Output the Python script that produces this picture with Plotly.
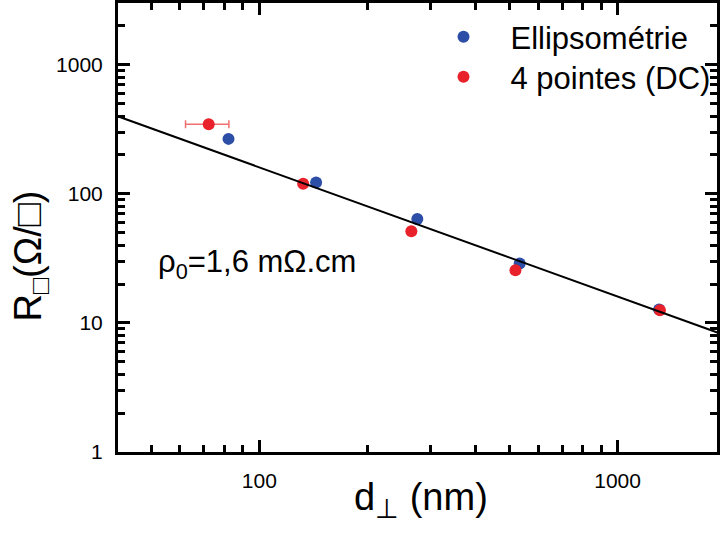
import math
import plotly.graph_objects as go

# ---- data ----
ellipso_d = [82, 144, 276, 533, 1306]
ellipso_R = [266, 122, 63.8, 28.8, 12.7]

pointes_d = [72.2, 132.5, 265.6, 518.6, 1313]
pointes_R = [345, 119.5, 51.2, 25.6, 12.5]
pointes_err = [10, 0, 0, 0, 0]

fit_d = [40, 2000]
fit_R = [400, 8]  # R = rho0 / d with rho0 = 1.6 mOhm.cm

x_tickvals = [100, 1000]
x_ticktext = ["100", "1000"]
y_tickvals = [1, 10, 100, 1000]
y_ticktext = ["1", "10", "100", "1000"]
x_minor = [m * 10 ** e for e in range(1, 4) for m in range(2, 10)]
y_minor = [m * 10 ** e for e in range(0, 4) for m in range(2, 10)]

FONT = "Liberation Sans, Arial, sans-serif"
BLUE = "#2c4ea6"
RED = "#e8212a"

W, H = 720, 534
L, R_, T, B = 118, 0, 3, 82
pw, ph = W - L - R_, H - T - B

def px(x):
    return (x - L) / pw

def py(y):
    return (H - B - y) / ph

fig = go.Figure()
fig.add_trace(go.Scatter(
    x=ellipso_d, y=ellipso_R, mode="markers", name="Ellipsométrie",
    marker=dict(color=BLUE, size=12, line=dict(width=0)), legend="legend",
))
fig.add_trace(go.Scatter(
    x=pointes_d, y=pointes_R, mode="markers", name="4 pointes (DC)",
    marker=dict(color=RED, size=12, line=dict(width=0)), legend="legend2",
    error_x=dict(type="data", array=pointes_err, color="#ef7070",
                 thickness=1.5, width=4),
))
fig.add_trace(go.Scatter(
    x=fit_d, y=fit_R, mode="lines", showlegend=False,
    line=dict(color="black", width=2),
))

xmin = math.log10(40.3)
xmax = xmin + pw / 360.0

axis_common = dict(
    type="log", showgrid=False, zeroline=False,
    showline=True, linecolor="black", linewidth=3,
    ticks="inside", ticklen=12, tickwidth=3, tickcolor="black",
    mirror="ticks", tickmode="array",
    tickfont=dict(family=FONT, size=21, color="black"),
    ticklabelstandoff=8,
)
minor_common = dict(ticks="inside", ticklen=7, tickwidth=2.5, tickcolor="black",
                    tickmode="array", showgrid=False)

fig.update_xaxes(range=[xmin, xmax], tickvals=x_tickvals, ticktext=x_ticktext,
                 minor=dict(tickvals=x_minor, **minor_common), **axis_common)
fig.update_yaxes(range=[0, math.log10(3000)], tickvals=y_tickvals,
                 ticktext=y_ticktext,
                 minor=dict(tickvals=y_minor, **minor_common), **axis_common)

fig.add_annotation(text="R<sub>□</sub>(Ω/□)", xref="paper", yref="paper",
                   x=px(31), y=py(256), textangle=-90, showarrow=False,
                   xanchor="center", yanchor="middle",
                   font=dict(family=FONT, size=38, color="black"))
fig.add_annotation(text="d<sub>⊥</sub> (nm)", xref="paper", yref="paper",
                   x=px(423), y=py(500), showarrow=False,
                   xanchor="center", yanchor="middle",
                   font=dict(family=FONT, size=38, color="black"))
fig.add_annotation(text="ρ<sub>0</sub>=1,6 mΩ.cm", xref="paper", yref="paper",
                   x=px(156), y=py(264), showarrow=False,
                   xanchor="left", yanchor="middle",
                   font=dict(family=FONT, size=31, color="black"))

leg_common = dict(xanchor="left", yanchor="top",
                  font=dict(family=FONT, size=31, color="black"),
                  bgcolor="rgba(0,0,0,0)", itemwidth=84)

fig.update_layout(
    width=W, height=H,
    margin=dict(l=L, r=R_, t=T, b=B),
    paper_bgcolor="white", plot_bgcolor="white",
    showlegend=True,
    legend=dict(x=px(418), y=py(10), **leg_common),
    legend2=dict(x=px(418), y=py(50), **leg_common),
)

fig.write_html("out.html", config={"displayModeBar": False},
               post_script="document.body.style.margin='0px';document.body.style.overflow='hidden';")
